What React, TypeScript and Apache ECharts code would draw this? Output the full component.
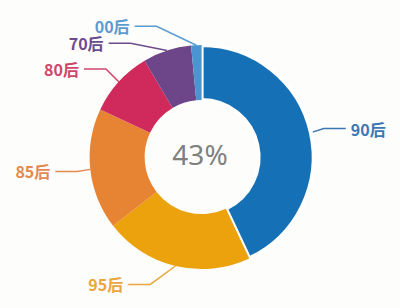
import React, { useEffect, useRef } from "react";
import * as echarts from "echarts";

const categories = ["90后", "95后", "85后", "80后", "70后", "00后"];
const values = [43, 21.5, 17.5, 9.5, 7, 1.5];
const sliceColors = ["#1570b5", "#eca20c", "#e68434", "#d02a5c", "#6c4688", "#4a94d2"];
const labelColors = ["#3b78b3", "#eaa640", "#e38a4e", "#d1456c", "#6e4b8c", "#5b9bd0"];
const centerText = "43%";

const W = 400;
const H = 308;
const CENTER = [0.504, 0.51];
const R_IN = 57;
const R_OUT = 112;
const LEN1 = 19;
const LEN2 = 22;
const REACH = 147;
const GAP = 5;
const LABEL_H = 17;

function computeLabelPlaces(cx: number, cy: number) {
  const total = values.reduce((a, b) => a + b, 0);
  let cum = 0;
  const places = values.map((v, i) => {
    const mid = ((cum + v / 2) / total) * Math.PI * 2;
    cum += v;
    const dir = Math.sin(mid) < 0 ? -1 : 1;
    const y = cy - (R_OUT + LEN1) * Math.cos(mid);
    return { i, dir, y, x: 0 };
  });
  [-1, 1].forEach((d) => {
    const side = places.filter((p) => p.dir === d).sort((a, b) => a.y - b.y);
    let lastBottom = -Infinity;
    side.forEach((p) => {
      if (p.y - LABEL_H / 2 < lastBottom) p.y = lastBottom + LABEL_H / 2;
      lastBottom = p.y + LABEL_H / 2;
    });
  });
  places.forEach((p) => {
    const dy = Math.abs(p.y - cy);
    p.x = cx + p.dir * Math.sqrt(Math.max(REACH * REACH - dy * dy, 0));
  });
  return places;
}

export default function App() {
  const ref = useRef<HTMLDivElement>(null);
  useEffect(() => {
    if (!ref.current) return;
    const chart = echarts.init(ref.current, null, { renderer: "svg" });
    const cx = W * CENTER[0];
    const cy = H * CENTER[1];
    const places = computeLabelPlaces(cx, cy);
    chart.setOption({
      animation: false,
      backgroundColor: "#fdfdfc",
      title: {
        text: centerText,
        left: "center",
        top: "middle",
        textStyle: { color: "#808080", fontSize: 28, fontWeight: "normal", fontFamily: "Noto Sans" },
      },
      series: [
        {
          type: "pie",
          center: [CENTER[0] * 100 + "%", CENTER[1] * 100 + "%"],
          radius: [R_IN, R_OUT],
          startAngle: 90,
          clockwise: true,
          data: categories.map((c, i) => ({
            name: c,
            value: values[i],
            itemStyle: {
              color: sliceColors[i],
              borderColor: i === 0 ? "#ffffff" : undefined,
              borderWidth: i === 0 ? 4 : 0,
            },
            label: { color: labelColors[i] },
            labelLine: { lineStyle: { color: labelColors[i] } },
          })),
          label: {
            show: true,
            formatter: "{b}",
            fontSize: 16,
            lineHeight: 15,
            fontWeight: "bold",
            fontFamily: "Noto Sans CJK SC",
            overflow: "none",
            bleedMargin: 0,
          },
          labelLine: { show: true, length: LEN1, length2: LEN2, lineStyle: { width: 1.5 } },
          labelLayout: (params: any) => {
            const pts = params.labelLinePoints;
            const p = places[params.dataIndex];
            if (!pts || !p) return {};
            const bendX = p.x - p.dir * LEN2;
            return {
              x: p.x + p.dir * GAP,
              y: p.y,
              align: p.dir < 0 ? "right" : "left",
              verticalAlign: "middle",
              labelLinePoints: [pts[0], [bendX, p.y], [p.x, p.y]],
            };
          },
        },
      ],
    });
    return () => chart.dispose();
  }, []);
  return <div ref={ref} style={{ position: "fixed", left: 0, top: 0, width: W, height: H }} />;
}
